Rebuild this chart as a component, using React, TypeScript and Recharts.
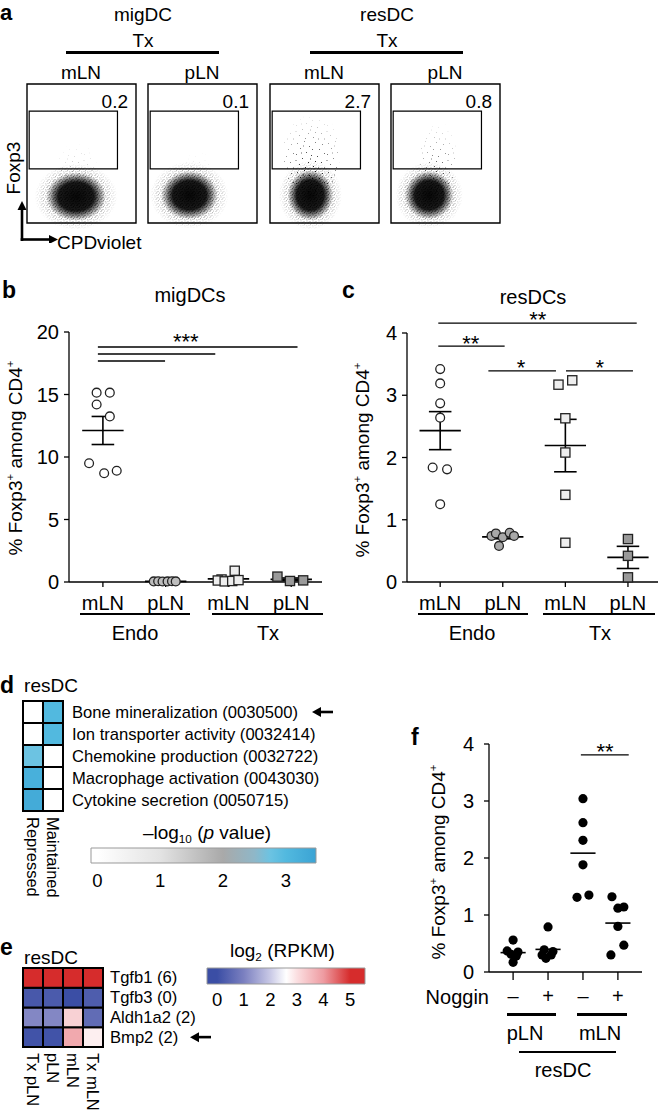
import React from "react";
import {
  Bar,
  BarChart,
  Cell,
  ReferenceArea,
  ReferenceDot,
  ReferenceLine,
  Scatter,
  ScatterChart,
  XAxis,
  YAxis,
} from "recharts";

const FONT = '"Liberation Sans", Arial, Helvetica, sans-serif';

// ---- a: flow plots (Foxp3 vs CPDviolet) ----
const flowCells = ["migDC", "resDC"];
const flowTissues = ["mLN", "pLN", "mLN", "pLN"];
const flowGatePct = [0.2, 0.1, 2.7, 0.8];
// centre and half-spread of the main population, % of axis
const cloudX = [45, 38, 37, 35];
const cloudY = [19, 20, 20, 20];
const cloudSpreadX = [38, 36, 29, 31];
const cloudSpreadY = [24, 24, 25, 24];
// events reaching into the gate
const tailX1 = [28, 32, 12, 26];
const tailX2 = [64, 60, 64, 60];
const tailY1 = [20, 20, 18, 20];
const tailY2 = [60, 54, 82, 76];
const tailDensity = [0.35, 0.2, 1, 0.75];
const gateX = [2, 83];
const gateY = [39, 80.5];
const flowXTicks = [3, 12, 22, 35, 48, 62, 76, 90];
const flowYTicks = [2, 5, 11, 22, 45, 69, 90];

// ---- b: migDCs ----
const bLabels = ["mLN", "pLN", "mLN", "pLN"];
const bTicks = [0, 5, 10, 15, 20];
const bEndoMln = [15.15, 15.15, 14.2, 13.25, 9.5, 8.7, 8.9];
const bEndoMlnJit = [-0.1, 0.11, -0.1, 0.11, -0.22, 0.02, 0.22];
const bEndoPln = [0.05, 0.06, 0.04, 0.05, 0.06, 0.05];
const bEndoPlnJit = [-0.19, -0.12, -0.05, 0.03, 0.1, 0.16];
const bTxMln = [0.2, 0.12, 0.05, 0.9, 0.08, 0.15];
const bTxMlnJit = [-0.11, -0.17, -0.06, 0.1, 0.06, 0.16];
const bTxPln = [0.43, 0.08, 0.13];
const bTxPlnJit = [-0.22, -0.02, 0.19];

// ---- c: resDCs ----
const cTicks = [0, 1, 2, 3, 4];
const cEndoMln = [3.42, 3.19, 2.87, 2.64, 1.84, 1.81, 1.25];
const cEndoMlnJit = [0, 0, 0, 0, -0.12, 0.11, 0];
const cEndoPln = [0.74, 0.78, 0.72, 0.79, 0.74, 0.58];
const cEndoPlnJit = [-0.18, -0.11, 0, 0.11, 0.18, -0.06];
const cTxMln = [3.17, 3.24, 2.63, 2.08, 1.4, 0.63];
const cTxMlnJit = [-0.11, 0.11, 0, 0, 0, 0];
const cTxPln = [0.69, 0.42, 0.075];
const cTxPlnJit = [0, 0, 0];

// ---- d: GO terms ----
const dRows = [
  "Bone mineralization (0030500)",
  "Ion transporter activity (0032414)",
  "Chemokine production (0032722)",
  "Macrophage activation (0043030)",
  "Cytokine secretion (0050715)",
];
const dCols = ["Repressed", "Maintained"];
const dValues = [
  [0, 3.0],
  [0, 3.0],
  [2.75, 0],
  [3.2, 0],
  [3.3, 0],
];
const dTicks = [0, 1, 2, 3];

// ---- e: genes ----
const eRows = ["Tgfb1 (6)", "Tgfb3 (0)", "Aldh1a2 (2)", "Bmp2 (2)"];
const eCols = ["Tx pLN", "pLN", "mLN", "Tx mLN"];
const eValues = [
  [5.6, 5.6, 5.6, 5.6],
  [0.2, 0.25, 0, 0.3],
  [1.1, 1.1, 3.2, 0.6],
  [0.1, 0.1, 3.8, 2.8],
];
const eTicks = [0, 1, 2, 3, 4, 5];

// ---- f: Noggin ----
const fLabels = ["–", "+", "–", "+"];
const fTicks = [0, 1, 2, 3, 4];
const fPlnMinus = [0.56, 0.37, 0.35, 0.31, 0.28, 0.17];
const fPlnMinusJit = [0, -0.17, 0.14, -0.06, 0.09, 0];
const fPlnPlus = [0.79, 0.3, 0.3, 0.24, 0.36, 0.39];
const fPlnPlusJit = [0, -0.17, 0.09, -0.06, 0.14, -0.11];
const fMlnMinus = [3.04, 2.62, 2.31, 1.88, 1.31, 1.35];
const fMlnMinusJit = [0, 0, 0, 0, -0.17, 0.17];
const fMlnPlus = [1.32, 1.12, 1.14, 0.8, 0.47, 0.3];
const fMlnPlusJit = [-0.17, 0, 0.17, 0, 0.17, -0.2];

const pStops: [number, string][] = [
  [0, "#ffffff"],
  [1, "#e3e3e3"],
  [2, "#a9a9a9"],
  [2.5, "#8fb7c8"],
  [2.75, "#6cc3e2"],
  [3.0, "#52b9df"],
  [3.5, "#3aa2d4"],
];
const rpkmStops: [number, string][] = [
  [0, "#3b4ea5"],
  [1, "#7b80c0"],
  [2, "#c9c9e6"],
  [2.6, "#ffffff"],
  [3, "#fbdfe1"],
  [4, "#ee9ba1"],
  [5, "#d62c2c"],
];

const hex = (c: string) => [1, 3, 5].map((i) => parseInt(c.slice(i, i + 2), 16));
function colorAt(stops: [number, string][], v: number) {
  if (v <= stops[0][0]) return stops[0][1];
  for (let i = 1; i < stops.length; i++) {
    if (v <= stops[i][0]) {
      const [v0, c0] = stops[i - 1];
      const [v1, c1] = stops[i];
      const t = (v - v0) / (v1 - v0);
      const a = hex(c0), b = hex(c1);
      return "rgb(" + a.map((x, k) => Math.round(x + (b[k] - x) * t)).join(",") + ")";
    }
  }
  return stops[stops.length - 1][1];
}

const mean = (a: number[]) => a.reduce((s, v) => s + v, 0) / a.length;
const sem = (a: number[]) => {
  const m = mean(a);
  return Math.sqrt(a.reduce((s, v) => s + (v - m) ** 2, 0) / (a.length - 1) / a.length);
};

const Txt = ({ x, y, size = 18, anchor = "middle", bold = false, children }: any) => {
  const tx = anchor === "middle" ? "-50%" : anchor === "end" ? "-100%" : "0";
  return (
    <div
      style={{
        position: "absolute",
        left: x,
        top: y,
        transform: `translate(${tx}, -50%)`,
        fontSize: size,
        lineHeight: 1,
        fontWeight: bold ? 700 : 400,
        whiteSpace: "nowrap",
      }}
    >
      {children}
    </div>
  );
};

const HLine = ({ x1, x2, y, w = 2.6 }: any) => (
  <div style={{ position: "absolute", left: x1, top: y - w / 2, width: x2 - x1, height: w, background: "#000" }} />
);

const Sup = ({ children }: any) => (
  <span style={{ fontSize: "0.6em", position: "relative", top: "-0.7em" }}>{children}</span>
);
const Sub = ({ children }: any) => (
  <span style={{ fontSize: "0.62em", position: "relative", top: "0.3em" }}>{children}</span>
);

const YLabel = ({ x, y, size = 19 }: any) => (
  <div
    style={{
      position: "absolute",
      left: x,
      top: y,
      transform: "translate(-50%, -50%) rotate(-90deg)",
      fontSize: size,
      lineHeight: 1,
      whiteSpace: "nowrap",
    }}
  >
    % Foxp3<Sup>+</Sup> among CD4<Sup>+</Sup>
  </div>
);

const Speckle = ({ x, y, width, height, pattern, maskId, opacity = 1, core }: any) => {
  const cx = x + width / 2;
  const cy = y + height / 2;
  return (
    <g opacity={opacity}>
      <ellipse cx={cx} cy={cy} rx={width / 2} ry={height / 2} fill={pattern} mask={`url(#${maskId})`} />
      {core && <ellipse cx={cx} cy={cy} rx={width * 0.36} ry={height * 0.36} fill="url(#core)" />}
    </g>
  );
};

function FlowPlot({ i, left }: { i: number; left: number }) {
  const W = 109;
  const H = 139;
  const tl = { stroke: "#000", strokeWidth: 1 };
  return (
    <div style={{ position: "absolute", left: left - 6, top: 82 }}>
      <ScatterChart width={W + 8} height={H + 8} margin={{ top: 2, right: 2, bottom: 2, left: 2 }}>
        <XAxis type="number" dataKey="x" domain={[0, 100]} ticks={flowXTicks} interval={0} tick={false} tickSize={3} height={4} axisLine={false} tickLine={tl} />
        <YAxis type="number" dataKey="y" domain={[0, 100]} ticks={flowYTicks} interval={0} tick={false} tickSize={3} width={4} axisLine={false} tickLine={tl} />
        <ReferenceArea
          x1={tailX1[i]} x2={tailX2[i]} y1={tailY1[i]} y2={tailY2[i]}
          ifOverflow="hidden"
          shape={(p: any) => <Speckle {...p} pattern="url(#sparse)" maskId="tailFade" opacity={tailDensity[i]} />}
        />
        <ReferenceArea
          x1={cloudX[i] - cloudSpreadX[i]} x2={cloudX[i] + cloudSpreadX[i]}
          y1={cloudY[i] - cloudSpreadY[i]} y2={cloudY[i] + cloudSpreadY[i]}
          ifOverflow="hidden"
          shape={(p: any) => <Speckle {...p} pattern="url(#dense)" maskId="fade" core />}
        />
        <ReferenceArea x1={gateX[0]} x2={gateX[1]} y1={gateY[0]} y2={gateY[1]} fill="none" fillOpacity={0} stroke="#000" strokeWidth={1.2} />
        <ReferenceArea x1={0} x2={100} y1={0} y2={100} fill="none" fillOpacity={0} stroke="#000" strokeWidth={1.4} />
        <Scatter data={[{ x: cloudX[i], y: cloudY[i] }]} shape={() => <g />} isAnimationActive={false} />
      </ScatterChart>
    </div>
  );
}

const marker = (kind: string, fill: string) => (p: any) => {
  if (kind === "square")
    return <rect x={p.cx - 4.6} y={p.cy - 4.6} width={9.2} height={9.2} fill={fill} stroke="#222" strokeWidth={1.3} />;
  if (kind === "dot") return <circle cx={p.cx} cy={p.cy} r={4.6} fill="#000" />;
  return <circle cx={p.cx} cy={p.cy} r={4.4} fill={fill} stroke="#222" strokeWidth={1.3} />;
};

function DotPlot(props: any) {
  const {
    width, height, margin, xDomain, yDomain, yTicks, xLabels, groups, sigBars, stars,
    showSem, meanHalf, capHalf, xTickSize, xTickMargin, yTickMargin, xAxisHeight, fontSize, starSize,
  } = props;
  const ax = { stroke: "#000", strokeWidth: 1.3 };
  const lines: any[] = [];
  groups.forEach((g: any, gi: number) => {
    const m = mean(g.values);
    lines.push(
      <ReferenceLine key={`m${gi}`} ifOverflow="visible" stroke="#000" strokeWidth={1.6}
        segment={[{ x: g.x - meanHalf, y: m }, { x: g.x + meanHalf, y: m }]} />
    );
    if (showSem) {
      const s = sem(g.values);
      lines.push(
        <ReferenceLine key={`v${gi}`} ifOverflow="visible" stroke="#000" strokeWidth={1.6}
          segment={[{ x: g.x, y: m - s }, { x: g.x, y: m + s }]} />,
        <ReferenceLine key={`u${gi}`} ifOverflow="visible" stroke="#000" strokeWidth={1.6}
          segment={[{ x: g.x - capHalf, y: m + s }, { x: g.x + capHalf, y: m + s }]} />,
        <ReferenceLine key={`l${gi}`} ifOverflow="visible" stroke="#000" strokeWidth={1.6}
          segment={[{ x: g.x - capHalf, y: m - s }, { x: g.x + capHalf, y: m - s }]} />
      );
    }
  });
  return (
    <ScatterChart width={width} height={height} margin={margin}>
      <XAxis
        type="number" dataKey="x" domain={xDomain}
        ticks={xLabels.map((_: string, i: number) => i + 1)}
        tickFormatter={(v: number) => xLabels[v - 1]}
        interval={0} axisLine={ax} tickLine={ax} tickSize={xTickSize} tickMargin={xTickMargin}
        height={xAxisHeight} tick={{ fill: "#000", fontSize }}
      />
      <YAxis
        type="number" dataKey="y" domain={yDomain} ticks={yTicks} interval={0}
        axisLine={ax} tickLine={ax} tickSize={5} tickMargin={yTickMargin} width={60}
        tick={{ fill: "#000", fontSize }}
      />
      {groups.map((g: any, gi: number) => (
        <Scatter
          key={gi}
          data={g.values.map((v: number, k: number) => ({ x: g.x + g.jitter[k], y: v }))}
          shape={marker(g.marker, g.fill)}
          isAnimationActive={false}
        />
      ))}
      {lines}
      {sigBars.map((b: any, k: number) => (
        <ReferenceLine key={`s${k}`} ifOverflow="visible" stroke="#000" strokeWidth={1.3}
          segment={[{ x: b.x1, y: b.y }, { x: b.x2, y: b.y }]} />
      ))}
      {stars.map((s: any, k: number) => (
        <ReferenceDot
          key={`t${k}`} x={s.x} y={s.y} r={0} ifOverflow="visible"
          shape={(p: any) => (
            <text x={p.cx} y={p.cy + starSize * 0.55} textAnchor="middle" fontSize={starSize} fill="#000">
              {s.text}
            </text>
          )}
        />
      ))}
    </ScatterChart>
  );
}

const Arrow = ({ x, y }: any) => (
  <g>
    <line x1={x + 7} y1={y} x2={x + 21} y2={y} stroke="#000" strokeWidth={2.6} />
    <path d={`M${x},${y} L${x + 9},${y - 5} L${x + 9},${y + 5} Z`} fill="#000" />
  </g>
);

function Heatmap(props: any) {
  const { width, height, margin, cols, rows, values, stops, yAxisWidth, xAxisHeight, fontSize, colFont, arrowRow, arrowDx, rowGap } = props;
  const n = rows.length;
  const data = cols.map((c: string) => {
    const o: any = { col: c };
    rows.forEach((_: string, ri: number) => (o["r" + ri] = 1));
    return o;
  });
  return (
    <BarChart width={width} height={height} data={data} margin={margin} barCategoryGap={0} barGap={0}>
      <XAxis
        dataKey="col" interval={0} tickLine={false} axisLine={false} tickSize={0} tickMargin={6} height={xAxisHeight}
        tick={(p: any) => (
          <text transform={`translate(${p.x},${p.y}) rotate(90)`} textAnchor="start" dominantBaseline="central" fontSize={colFont} fill="#000">
            {p.payload.value}
          </text>
        )}
      />
      <YAxis
        type="number" orientation="right" domain={[0, n]} ticks={rows.map((_: string, i: number) => n - i - 0.5)}
        interval={0} tickLine={false} axisLine={false} tickSize={0} tickMargin={rowGap} width={yAxisWidth}
        tick={(p: any) => {
          const ri = Math.round(n - 0.5 - p.payload.value);
          return (
            <g>
              <text x={p.x} y={p.y} dominantBaseline="central" fontSize={fontSize} fill="#000">{rows[ri]}</text>
              {ri === arrowRow && <Arrow x={p.x + arrowDx} y={p.y} />}
            </g>
          );
        }}
      />
      {rows.map((_: string, k: number) => {
        const ri = n - 1 - k;
        return (
          <Bar key={ri} dataKey={"r" + ri} stackId="h" stroke="#000" strokeWidth={2} isAnimationActive={false}>
            {cols.map((_c: string, ci: number) => (
              <Cell key={ci} fill={colorAt(stops, values[ri][ci])} />
            ))}
          </Bar>
        );
      })}
    </BarChart>
  );
}

function ColorBar(props: any) {
  const { width, height, margin, domain, ticks, gradId, xAxisHeight, tickMargin, fontSize } = props;
  return (
    <BarChart layout="vertical" width={width} height={height} data={[{ name: "scale", span: domain }]} margin={margin} barCategoryGap={0}>
      <XAxis type="number" domain={domain} ticks={ticks} interval={0} axisLine={false} tickLine={false} tickSize={0}
        tickMargin={tickMargin} height={xAxisHeight} tick={{ fill: "#000", fontSize }} />
      <YAxis type="category" dataKey="name" hide />
      <Bar dataKey="span" fill={`url(#${gradId})`} stroke="#999" strokeWidth={1} isAnimationActive={false} />
    </BarChart>
  );
}

const gradStops = (stops: [number, string][], domain: number[]) => {
  const [lo, hi] = domain;
  const pts = [lo, ...stops.map((s) => s[0]).filter((v) => v > lo && v < hi), hi];
  return pts.map((v, k) => <stop key={k} offset={(v - lo) / (hi - lo)} stopColor={colorAt(stops, v)} />);
};

const dBarDomain = [-0.1, 3.48];
const eBarDomain = [-0.38, 5.56];

// speckle textures for the flow clouds
const densePts = [[0.5, 0.5], [3.5, 1], [5.2, 2.6], [1.5, 3], [4, 4.2], [2.5, 5.2], [0.2, 5.4], [2.3, 1.8]];
const sparsePts = [
  [2, 3], [9, 1], [5, 8], [14, 6], [11, 12], [1, 14], [16, 15], [7, 18], [20, 2], [13, 22],
  [24, 9], [27, 4], [22, 16], [29, 13], [18, 26], [4, 24], [26, 22], [10, 27], [29, 27.5],
  [17, 9], [6, 12.5], [23, 27.5], [0.5, 20], [15, 18.5], [20, 21], [8, 5.5],
];

export default function App() {
  const boxLefts = [27, 148, 270, 391];
  return (
    <div style={{ position: "absolute", left: 0, top: 0, width: 664, height: 1110, background: "#fff", fontFamily: FONT, color: "#000", overflow: "hidden" }}>
      <svg width={0} height={0} style={{ position: "absolute" }}>
        <defs>
          <pattern id="dense" width={6} height={6} patternUnits="userSpaceOnUse">
            {densePts.map(([a, b], k) => (
              <rect key={k} x={a} y={b} width={1} height={1} fill="#000" />
            ))}
          </pattern>
          <pattern id="sparse" width={31} height={29} patternUnits="userSpaceOnUse">
            {sparsePts.map(([a, b], k) => (
              <rect key={k} x={a} y={b} width={1} height={1} fill="#000" />
            ))}
          </pattern>
          <radialGradient id="fadeGrad">
            <stop offset="0" stopColor="#fff" />
            <stop offset="0.35" stopColor="#fff" />
            <stop offset="1" stopColor="#000" />
          </radialGradient>
          <mask id="fade" maskContentUnits="objectBoundingBox">
            <rect width={1} height={1} fill="url(#fadeGrad)" />
          </mask>
          <radialGradient id="tailGrad" cx="0.5" cy="0.8" r="0.75">
            <stop offset="0" stopColor="#fff" />
            <stop offset="0.3" stopColor="#ccc" />
            <stop offset="1" stopColor="#000" />
          </radialGradient>
          <mask id="tailFade" maskContentUnits="objectBoundingBox">
            <rect width={1} height={1} fill="url(#tailGrad)" />
          </mask>
          <radialGradient id="core">
            <stop offset="0" stopColor="#000" stopOpacity={0.97} />
            <stop offset="0.6" stopColor="#000" stopOpacity={0.9} />
            <stop offset="1" stopColor="#000" stopOpacity={0} />
          </radialGradient>
          <linearGradient id="pGrad" x1="0" x2="1" y1="0" y2="0">{gradStops(pStops, dBarDomain)}</linearGradient>
          <linearGradient id="rpkmGrad" x1="0" x2="1" y1="0" y2="0">{gradStops(rpkmStops, eBarDomain)}</linearGradient>
        </defs>
      </svg>

      {/* a */}
      <Txt x={0} y={13} size={22} bold anchor="start">a</Txt>
      <Txt x={143} y={14} size={19}>{flowCells[0]}</Txt>
      <Txt x={143} y={40} size={19}>Tx</Txt>
      <HLine x1={66} x2={219} y={52} w={3} />
      <Txt x={387} y={14} size={19}>{flowCells[1]}</Txt>
      <Txt x={387} y={40} size={19}>Tx</Txt>
      <HLine x1={310} x2={463} y={52} w={3} />
      {boxLefts.map((l, i) => (
        <React.Fragment key={i}>
          <Txt x={l + 54} y={72} size={19}>{flowTissues[i]}</Txt>
          <Txt x={l + 101} y={101} size={19} anchor="end">{flowGatePct[i]}</Txt>
          <FlowPlot i={i} left={l} />
        </React.Fragment>
      ))}
      <div style={{ position: "absolute", left: 13, top: 168, transform: "translate(-50%, -50%) rotate(-90deg)", fontSize: 19, lineHeight: 1 }}>Foxp3</div>
      <svg width={60} height={45} style={{ position: "absolute", left: 10, top: 198 }}>
        <line x1={12} y1={43} x2={12} y2={10} stroke="#000" strokeWidth={2.6} />
        <path d="M12,3 L7.5,12 L16.5,12 Z" fill="#000" />
        <line x1={10.7} y1={41.5} x2={40} y2={41.5} stroke="#000" strokeWidth={2.6} />
        <path d="M48,41.5 L39,37 L39,46 Z" fill="#000" />
      </svg>
      <Txt x={57} y={242} size={19} anchor="start">CPDviolet</Txt>

      {/* b */}
      <Txt x={2} y={290} size={23} bold anchor="start">b</Txt>
      <Txt x={190} y={295} size={20}>migDCs</Txt>
      <YLabel x={15} y={458} />
      <div style={{ position: "absolute", left: 0, top: 300 }}>
        <DotPlot
          width={330} height={340} margin={{ top: 32, right: 8, left: 9, bottom: 0 }}
          xDomain={[0.46, 4.49]} yDomain={[0, 20]} yTicks={bTicks} xLabels={bLabels}
          groups={[
            { x: 1, values: bEndoMln, jitter: bEndoMlnJit, marker: "circle", fill: "#fff" },
            { x: 2, values: bEndoPln, jitter: bEndoPlnJit, marker: "circle", fill: "#bdbdbd" },
            { x: 3, values: bTxMln, jitter: bTxMlnJit, marker: "square", fill: "#eeeeee" },
            { x: 4, values: bTxPln, jitter: bTxPlnJit, marker: "square", fill: "#9a9a9a" },
          ]}
          sigBars={[
            { x1: 0.92, x2: 4.1, y: 18.8 },
            { x1: 0.92, x2: 2.79, y: 18.24 },
            { x1: 0.92, x2: 1.99, y: 17.68 },
          ]}
          stars={[{ x: 2.32, y: 19.6, text: "***" }]}
          showSem meanHalf={0.33} capHalf={0.18}
          xTickSize={5} xTickMargin={9} yTickMargin={5} xAxisHeight={58} fontSize={20} starSize={22}
        />
      </div>
      <HLine x1={80} x2={190} y={614} />
      <HLine x1={212} x2={323} y={614} />
      <Txt x={135} y={633} size={20}>Endo</Txt>
      <Txt x={268} y={633} size={20}>Tx</Txt>

      {/* c */}
      <Txt x={342} y={290} size={23} bold anchor="start">c</Txt>
      <Txt x={533} y={297} size={20}>resDCs</Txt>
      <YLabel x={362} y={460} />
      <div style={{ position: "absolute", left: 330, top: 300 }}>
        <DotPlot
          width={334} height={340} margin={{ top: 33, right: 6, left: 17, bottom: 0 }}
          xDomain={[0.47, 4.48]} yDomain={[0, 4]} yTicks={cTicks} xLabels={bLabels}
          groups={[
            { x: 1, values: cEndoMln, jitter: cEndoMlnJit, marker: "circle", fill: "#fff" },
            { x: 2, values: cEndoPln, jitter: cEndoPlnJit, marker: "circle", fill: "#a8a8a8" },
            { x: 3, values: cTxMln, jitter: cTxMlnJit, marker: "square", fill: "#eeeeee" },
            { x: 4, values: cTxPln, jitter: cTxPlnJit, marker: "square", fill: "#999999" },
          ]}
          sigBars={[
            { x1: 0.97, x2: 4.14, y: 4.16 },
            { x1: 0.97, x2: 2.03, y: 3.79 },
            { x1: 1.77, x2: 2.85, y: 3.39 },
            { x1: 3.01, x2: 4.08, y: 3.39 },
          ]}
          stars={[
            { x: 2.56, y: 4.29, text: "**" },
            { x: 1.49, y: 3.9, text: "**" },
            { x: 2.29, y: 3.52, text: "*" },
            { x: 3.55, y: 3.52, text: "*" },
          ]}
          showSem meanHalf={0.33} capHalf={0.18}
          xTickSize={5} xTickMargin={9} yTickMargin={5} xAxisHeight={58} fontSize={20} starSize={22}
        />
      </div>
      <HLine x1={418} x2={528} y={614} />
      <HLine x1={543} x2={655} y={614} />
      <Txt x={472} y={633} size={20}>Endo</Txt>
      <Txt x={600} y={633} size={20}>Tx</Txt>

      {/* d */}
      <Txt x={0} y={685} size={23} bold anchor="start">d</Txt>
      <Txt x={51} y={685} size={19}>resDC</Txt>
      <div style={{ position: "absolute", left: 0, top: 690 }}>
        <Heatmap
          width={340} height={212} margin={{ top: 11, left: 23, right: 0, bottom: 0 }}
          cols={dCols} rows={dRows} values={dValues} stops={pStops}
          yAxisWidth={277} xAxisHeight={91} fontSize={16.6} colFont={16.5} rowGap={9}
          arrowRow={0} arrowDx={240}
        />
      </div>
      <Txt x={207} y={832} size={19}>
        –log<Sub>10</Sub> (<i>p</i> value)
      </Txt>
      <div style={{ position: "absolute", left: 80, top: 840 }}>
        <ColorBar width={250} height={60} margin={{ top: 8, left: 11, right: 14, bottom: 0 }}
          domain={dBarDomain} ticks={dTicks} gradId="pGrad" xAxisHeight={37} tickMargin={11} fontSize={18.5} />
      </div>

      {/* e */}
      <Txt x={0} y={947} size={23} bold anchor="start">e</Txt>
      <Txt x={51} y={957} size={19}>resDC</Txt>
      <div style={{ position: "absolute", left: 0, top: 955 }}>
        <Heatmap
          width={215} height={155} margin={{ top: 13, left: 23, right: 0, bottom: 0 }}
          cols={eCols} rows={eRows} values={eValues} stops={rpkmStops}
          yAxisWidth={112} xAxisHeight={63} fontSize={16.6} colFont={16.5} rowGap={7}
          arrowRow={3} arrowDx={80}
        />
      </div>
      <Txt x={230} y={950} size={19} anchor="start">
        log<Sub>2</Sub> (RPKM)
      </Txt>
      <div style={{ position: "absolute", left: 200, top: 960 }}>
        <ColorBar width={170} height={55} margin={{ top: 8, left: 7, right: 5, bottom: 0 }}
          domain={eBarDomain} ticks={eTicks} gradId="rpkmGrad" xAxisHeight={31} tickMargin={9} fontSize={18.5} />
      </div>

      {/* f */}
      <Txt x={411} y={737} size={23} bold anchor="start">f</Txt>
      <YLabel x={438} y={862} />
      <div style={{ position: "absolute", left: 400, top: 720 }}>
        <DotPlot
          width={264} height={300} margin={{ top: 24, right: 22, left: 29, bottom: 0 }}
          xDomain={[0.31, 4.69]} yDomain={[0, 4]} yTicks={fTicks} xLabels={fLabels}
          groups={[
            { x: 1, values: fPlnMinus, jitter: fPlnMinusJit, marker: "dot", fill: "#000" },
            { x: 2, values: fPlnPlus, jitter: fPlnPlusJit, marker: "dot", fill: "#000" },
            { x: 3, values: fMlnMinus, jitter: fMlnMinusJit, marker: "dot", fill: "#000" },
            { x: 4, values: fMlnPlus, jitter: fMlnPlusJit, marker: "dot", fill: "#000" },
          ]}
          sigBars={[{ x1: 2.94, x2: 4.31, y: 3.81 }]}
          stars={[{ x: 3.63, y: 3.95, text: "**" }]}
          showSem={false} meanHalf={0.36} capHalf={0}
          xTickSize={8} xTickMargin={9} yTickMargin={10} xAxisHeight={48} fontSize={20} starSize={22}
        />
      </div>
      <Txt x={489} y={997} size={20} anchor="end">Noggin</Txt>
      <HLine x1={507} x2={556} y={1014} w={3} />
      <HLine x1={577} x2={627} y={1014} w={3} />
      <Txt x={525} y={1033} size={20}>pLN</Txt>
      <Txt x={600} y={1033} size={20}>mLN</Txt>
      <HLine x1={519} x2={616} y={1052} />
      <Txt x={563} y={1070} size={20}>resDC</Txt>
    </div>
  );
}
